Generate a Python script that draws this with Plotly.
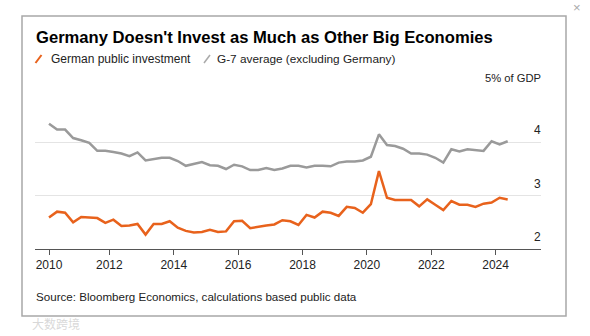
import plotly.graph_objects as go

# ---- data (quarterly, % of GDP) ----
quarters = [f"{y}Q{q}" for y in range(2010, 2025) for q in range(1, 5)][:58]

german = [2.59, 2.70, 2.68, 2.50, 2.60, 2.59, 2.58, 2.49, 2.55, 2.43,
          2.44, 2.47, 2.27, 2.47, 2.47, 2.52, 2.40, 2.34, 2.31, 2.32,
          2.36, 2.32, 2.33, 2.52, 2.53, 2.39, 2.42, 2.44, 2.46, 2.54,
          2.52, 2.45, 2.64, 2.59,
          2.70, 2.68, 2.62, 2.79, 2.77, 2.68, 2.84, 3.46, 2.96, 2.92,
          2.92, 2.92, 2.80, 2.93, 2.83, 2.73, 2.90, 2.83, 2.83, 2.79,
          2.85, 2.87, 2.96, 2.93]

g7 = [4.35, 4.24, 4.24, 4.08, 4.04, 3.99, 3.84, 3.84, 3.82, 3.79,
      3.74, 3.81, 3.66, 3.68, 3.71, 3.71, 3.65, 3.56, 3.59, 3.63,
      3.57, 3.56, 3.50, 3.58, 3.55, 3.48, 3.48, 3.52, 3.48, 3.51,
      3.56, 3.56, 3.53, 3.56,
      3.56, 3.55, 3.62, 3.64, 3.64, 3.66, 3.73, 4.15, 3.95, 3.93,
      3.88, 3.79, 3.79, 3.77, 3.71, 3.62, 3.87, 3.83, 3.87, 3.85,
      3.84, 4.02, 3.96, 4.02]

tick_labels = ["2010", "2012", "2014", "2016", "2018", "2020", "2022", "2024"]
y_labels = [2, 3, 4]

title = "Germany Doesn't Invest as Much as Other Big Economies"
legend_names = ["German public investment", "G-7 average (excluding Germany)"]
source = "Source: Bloomberg Economics, calculations based public data"

ORANGE = "#e8621c"
GRAY = "#9a9a9a"

# mid-quarter positions on a numeric year axis
x = [int(s[:4]) + (int(s[-1]) - 0.5) / 4 for s in quarters]
tick_vals = [max(int(t), x[0]) for t in tick_labels]

W, H = 590, 336
L, R, T, B = 35, 49, 89, 87
PW, PH = W - L - R, H - T - B


def px(xp):
    return (xp - L) / PW


def py(yp):
    return (H - B - yp) / PH


fig = go.Figure()
fig.add_trace(go.Scatter(x=x, y=g7, mode="lines", name=legend_names[1],
                         line=dict(color=GRAY, width=2.5), hoverinfo="skip"))
fig.add_trace(go.Scatter(x=x, y=german, mode="lines", name=legend_names[0],
                         line=dict(color=ORANGE, width=2.5), hoverinfo="skip"))

FONT = "Liberation Sans, Arial, sans-serif"

annotations = [
    dict(text=f"<b>{title}</b>", x=px(34), y=py(37), xref="paper", yref="paper",
         xanchor="left", yanchor="middle", showarrow=False,
         font=dict(size=16.6, color="#000", family=FONT)),
    dict(text=legend_names[0], x=px(49), y=py(59), xref="paper", yref="paper",
         xanchor="left", yanchor="middle", showarrow=False,
         font=dict(size=12, color="#222", family=FONT)),
    dict(text=legend_names[1], x=px(215), y=py(59), xref="paper", yref="paper",
         xanchor="left", yanchor="middle", showarrow=False,
         font=dict(size=11.8, color="#222", family=FONT)),
    dict(text="5% of GDP", x=1, y=5, xref="paper", yref="y",
         xanchor="right", yanchor="bottom", yshift=3, xshift=2, showarrow=False,
         font=dict(size=11.2, color="#222", family=FONT)),
    dict(text=source, x=px(34), y=py(296), xref="paper", yref="paper",
         xanchor="left", yanchor="middle", showarrow=False,
         font=dict(size=11.6, color="#222", family=FONT)),
    dict(text="×", x=px(577), y=py(7), xref="paper", yref="paper",
         xanchor="center", yanchor="middle", showarrow=False,
         font=dict(size=13, color="#aaa", family=FONT)),
    dict(text="大数跨境", x=px(30), y=py(323), xref="paper", yref="paper",
         xanchor="left", yanchor="middle", showarrow=False,
         font=dict(size=12, color="rgba(190,190,190,0.6)", family="Noto Sans CJK SC")),
]
for v in y_labels:
    annotations.append(dict(text=str(v), x=1, y=v, xref="paper", yref="y",
                            xanchor="right", yanchor="bottom", yshift=3, xshift=2,
                            showarrow=False,
                            font=dict(size=12, color="#222", family=FONT)))

shapes = [
    dict(type="rect", xref="paper", yref="paper", x0=px(22), x1=px(566),
         y0=py(16), y1=py(316), line=dict(color="#a8a8a8", width=1.5),
         fillcolor="rgba(0,0,0,0)", layer="below"),
    dict(type="line", xref="paper", yref="paper", x0=px(35.5), y0=py(63),
         x1=px(41.5), y1=py(55), line=dict(color=ORANGE, width=2)),
    dict(type="line", xref="paper", yref="paper", x0=px(204), y0=py(63),
         x1=px(210), y1=py(55), line=dict(color="#aaa", width=1.5)),
]

fig.update_layout(
    width=W, height=H,
    margin=dict(l=L, r=R, t=T, b=B, pad=0),
    paper_bgcolor="white", plot_bgcolor="white",
    showlegend=False,
    annotations=annotations,
    shapes=shapes,
    xaxis=dict(range=[x[0] - (2010.125 - 2009.69), 2025.41],
               tickvals=tick_vals, ticktext=tick_labels,
               showgrid=False, zeroline=False,
               showline=True, linecolor="#555", linewidth=1,
               ticks="outside", ticklen=5, tickcolor="#555", tickwidth=1,
               tickfont=dict(size=12, color="#222", family=FONT)),
    yaxis=dict(range=[2, 5], tickvals=[3, 4, 5], showticklabels=False,
               showgrid=True, gridcolor="#e4e4e4", gridwidth=1,
               zeroline=False, showline=False, ticks=""),
)

fig.write_html("out.html")
